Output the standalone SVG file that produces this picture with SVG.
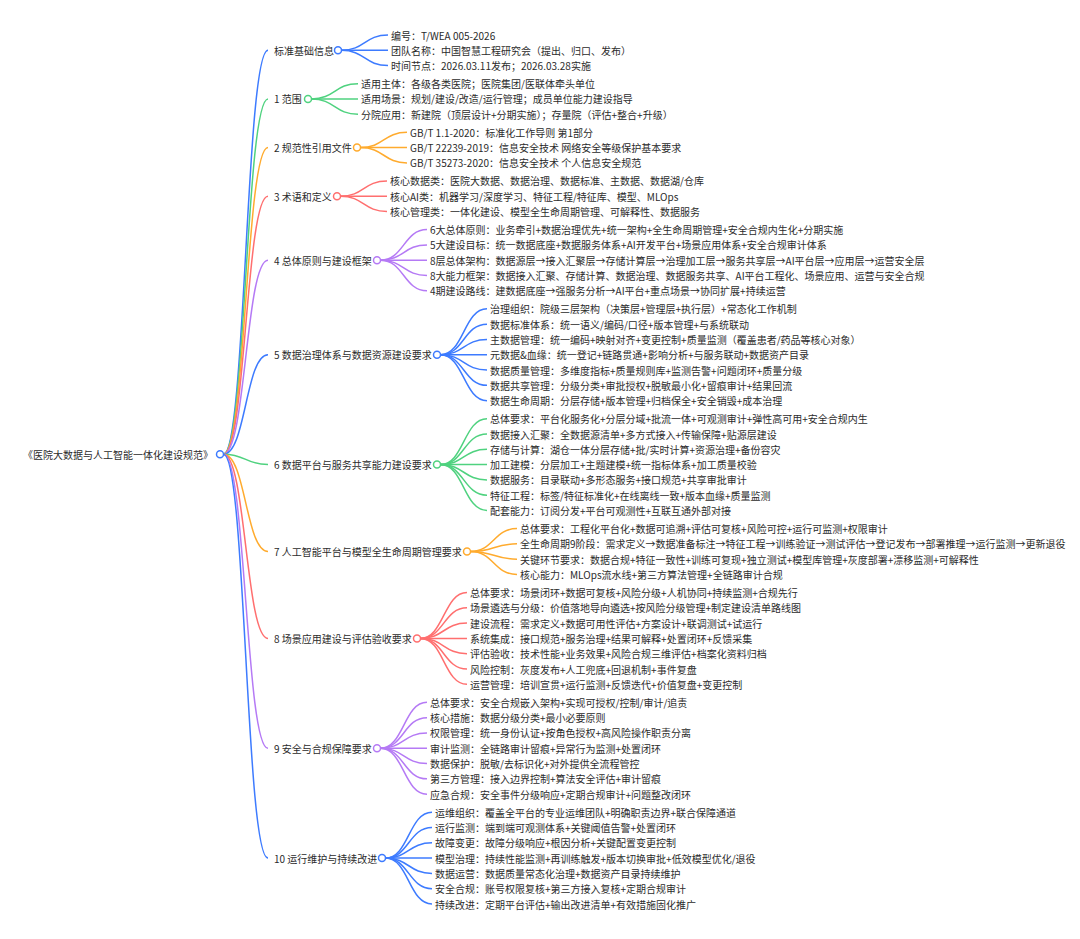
<svg xmlns="http://www.w3.org/2000/svg" width="1080" height="939" viewBox="0 0 1080 939">
<style>
text{font-family:"Noto Sans CJK SC","Microsoft YaHei",sans-serif;font-size:10px;fill:#2b2b2b;dominant-baseline:central}
.lk{fill:none;stroke-width:1.5}
.dot{fill:#fff;stroke-width:1.5}
.b{stroke:#3d7bff}.g{stroke:#4fd27f}.o{stroke:#ffab2e}.r{stroke:#ff6f6f}.p{stroke:#b57af5}
</style>
<rect width="1080" height="939" fill="#fff"/>
<g id="connectors">
<!-- root to sections -->
<path class="lk b" d="M223.5 454.2C245.75 454.2 245.75 50.3 268 50.3"/>
<path class="lk g" d="M223.5 454.2C245.75 454.2 245.75 98.95 268 98.95"/>
<path class="lk o" d="M223.5 454.2C245.75 454.2 245.75 147.6 268 147.6"/>
<path class="lk r" d="M223.5 454.2C245.75 454.2 245.75 196.25 268 196.25"/>
<path class="lk p" d="M223.5 454.2C245.75 454.2 245.75 260.2 268 260.2"/>
<path class="lk b" d="M223.5 454.2C245.75 454.2 245.75 354.75 268 354.75"/>
<path class="lk g" d="M223.5 454.2C245.75 454.2 245.75 464.6 268 464.6"/>
<path class="lk o" d="M223.5 454.2C245.75 454.2 245.75 551.5 268 551.5"/>
<path class="lk r" d="M223.5 454.2C245.75 454.2 245.75 638.4 268 638.4"/>
<path class="lk p" d="M223.5 454.2C245.75 454.2 245.75 748.25 268 748.25"/>
<path class="lk b" d="M223.5 454.2C245.75 454.2 245.75 858.1 268 858.1"/>
<!-- S0 -->
<path class="lk b" d="M341.5 50.3C364.75 50.3 364.75 35 388 35"/>
<path class="lk b" d="M341.5 50.3C364.75 50.3 364.75 50.3 388 50.3"/>
<path class="lk b" d="M341.5 50.3C364.75 50.3 364.75 65.6 388 65.6"/>
<!-- S1 -->
<path class="lk g" d="M311.5 98.95C334.75 98.95 334.75 83.65 358 83.65"/>
<path class="lk g" d="M311.5 98.95C334.75 98.95 334.75 98.95 358 98.95"/>
<path class="lk g" d="M311.5 98.95C334.75 98.95 334.75 114.25 358 114.25"/>
<!-- S2 -->
<path class="lk o" d="M360.5 147.6C383.75 147.6 383.75 132.3 407 132.3"/>
<path class="lk o" d="M360.5 147.6C383.75 147.6 383.75 147.6 407 147.6"/>
<path class="lk o" d="M360.5 147.6C383.75 147.6 383.75 162.9 407 162.9"/>
<!-- S3 -->
<path class="lk r" d="M340.5 196.25C363.75 196.25 363.75 180.95 387 180.95"/>
<path class="lk r" d="M340.5 196.25C363.75 196.25 363.75 196.25 387 196.25"/>
<path class="lk r" d="M340.5 196.25C363.75 196.25 363.75 211.55 387 211.55"/>
<!-- S4 -->
<path class="lk p" d="M380.5 260.2C403.75 260.2 403.75 229.6 427 229.6"/>
<path class="lk p" d="M380.5 260.2C403.75 260.2 403.75 244.9 427 244.9"/>
<path class="lk p" d="M380.5 260.2C403.75 260.2 403.75 260.2 427 260.2"/>
<path class="lk p" d="M380.5 260.2C403.75 260.2 403.75 275.5 427 275.5"/>
<path class="lk p" d="M380.5 260.2C403.75 260.2 403.75 290.8 427 290.8"/>
<!-- S5 -->
<path class="lk b" d="M440.5 354.75C463.75 354.75 463.75 308.85 487 308.85"/>
<path class="lk b" d="M440.5 354.75C463.75 354.75 463.75 324.15 487 324.15"/>
<path class="lk b" d="M440.5 354.75C463.75 354.75 463.75 339.45 487 339.45"/>
<path class="lk b" d="M440.5 354.75C463.75 354.75 463.75 354.75 487 354.75"/>
<path class="lk b" d="M440.5 354.75C463.75 354.75 463.75 370.05 487 370.05"/>
<path class="lk b" d="M440.5 354.75C463.75 354.75 463.75 385.35 487 385.35"/>
<path class="lk b" d="M440.5 354.75C463.75 354.75 463.75 400.65 487 400.65"/>
<!-- S6 -->
<path class="lk g" d="M440.5 464.6C463.75 464.6 463.75 418.7 487 418.7"/>
<path class="lk g" d="M440.5 464.6C463.75 464.6 463.75 434 487 434"/>
<path class="lk g" d="M440.5 464.6C463.75 464.6 463.75 449.3 487 449.3"/>
<path class="lk g" d="M440.5 464.6C463.75 464.6 463.75 464.6 487 464.6"/>
<path class="lk g" d="M440.5 464.6C463.75 464.6 463.75 479.9 487 479.9"/>
<path class="lk g" d="M440.5 464.6C463.75 464.6 463.75 495.2 487 495.2"/>
<path class="lk g" d="M440.5 464.6C463.75 464.6 463.75 510.5 487 510.5"/>
<!-- S7 -->
<path class="lk o" d="M470.5 551.5C493.75 551.5 493.75 528.55 517 528.55"/>
<path class="lk o" d="M470.5 551.5C493.75 551.5 493.75 543.85 517 543.85"/>
<path class="lk o" d="M470.5 551.5C493.75 551.5 493.75 559.15 517 559.15"/>
<path class="lk o" d="M470.5 551.5C493.75 551.5 493.75 574.45 517 574.45"/>
<!-- S8 -->
<path class="lk r" d="M420.5 638.4C443.75 638.4 443.75 592.5 467 592.5"/>
<path class="lk r" d="M420.5 638.4C443.75 638.4 443.75 607.8 467 607.8"/>
<path class="lk r" d="M420.5 638.4C443.75 638.4 443.75 623.1 467 623.1"/>
<path class="lk r" d="M420.5 638.4C443.75 638.4 443.75 638.4 467 638.4"/>
<path class="lk r" d="M420.5 638.4C443.75 638.4 443.75 653.7 467 653.7"/>
<path class="lk r" d="M420.5 638.4C443.75 638.4 443.75 669 467 669"/>
<path class="lk r" d="M420.5 638.4C443.75 638.4 443.75 684.3 467 684.3"/>
<!-- S9 -->
<path class="lk p" d="M380.5 748.25C403.75 748.25 403.75 702.35 427 702.35"/>
<path class="lk p" d="M380.5 748.25C403.75 748.25 403.75 717.65 427 717.65"/>
<path class="lk p" d="M380.5 748.25C403.75 748.25 403.75 732.95 427 732.95"/>
<path class="lk p" d="M380.5 748.25C403.75 748.25 403.75 748.25 427 748.25"/>
<path class="lk p" d="M380.5 748.25C403.75 748.25 403.75 763.55 427 763.55"/>
<path class="lk p" d="M380.5 748.25C403.75 748.25 403.75 778.85 427 778.85"/>
<path class="lk p" d="M380.5 748.25C403.75 748.25 403.75 794.15 427 794.15"/>
<!-- S10 -->
<path class="lk b" d="M385.5 858.1C408.75 858.1 408.75 812.2 432 812.2"/>
<path class="lk b" d="M385.5 858.1C408.75 858.1 408.75 827.5 432 827.5"/>
<path class="lk b" d="M385.5 858.1C408.75 858.1 408.75 842.8 432 842.8"/>
<path class="lk b" d="M385.5 858.1C408.75 858.1 408.75 858.1 432 858.1"/>
<path class="lk b" d="M385.5 858.1C408.75 858.1 408.75 873.4 432 873.4"/>
<path class="lk b" d="M385.5 858.1C408.75 858.1 408.75 888.7 432 888.7"/>
<path class="lk b" d="M385.5 858.1C408.75 858.1 408.75 904 432 904"/>
</g>

<g id="root"><text x="213" y="454.2" text-anchor="end">《医院大数据与人工智能一体化建设规范》</text><circle class="dot b" cx="220" cy="454.2" r="3.5"/></g>

<g id="s0"><text x="274" y="50.3">标准基础信息</text><circle class="dot b" cx="338" cy="50.3" r="3.5"/></g>
<g id="s0-1"><text x="391" y="35">编号：T/WEA 005-2026</text></g>
<g id="s0-2"><text x="391" y="50.3">团队名称：中国智慧工程研究会（提出、归口、发布）</text></g>
<g id="s0-3"><text x="391" y="65.6">时间节点：2026.03.11发布；2026.03.28实施</text></g>

<g id="s1"><text x="274" y="98.95">1 范围</text><circle class="dot g" cx="308" cy="98.95" r="3.5"/></g>
<g id="s1-1"><text x="361" y="83.65">适用主体：各级各类医院；医院集团/医联体牵头单位</text></g>
<g id="s1-2"><text x="361" y="98.95">适用场景：规划/建设/改造/运行管理；成员单位能力建设指导</text></g>
<g id="s1-3"><text x="361" y="114.25">分院应用：新建院（顶层设计+分期实施）；存量院（评估+整合+升级）</text></g>

<g id="s2"><text x="274" y="147.6">2 规范性引用文件</text><circle class="dot o" cx="357" cy="147.6" r="3.5"/></g>
<g id="s2-1"><text x="410" y="132.3">GB/T 1.1-2020：标准化工作导则 第1部分</text></g>
<g id="s2-2"><text x="410" y="147.6">GB/T 22239-2019：信息安全技术 网络安全等级保护基本要求</text></g>
<g id="s2-3"><text x="410" y="162.9">GB/T 35273-2020：信息安全技术 个人信息安全规范</text></g>

<g id="s3"><text x="274" y="196.25">3 术语和定义</text><circle class="dot r" cx="337" cy="196.25" r="3.5"/></g>
<g id="s3-1"><text x="390" y="180.95">核心数据类：医院大数据、数据治理、数据标准、主数据、数据湖/仓库</text></g>
<g id="s3-2"><text x="390" y="196.25">核心AI类：机器学习/深度学习、特征工程/特征库、模型、MLOps</text></g>
<g id="s3-3"><text x="390" y="211.55">核心管理类：一体化建设、模型全生命周期管理、可解释性、数据服务</text></g>

<g id="s4"><text x="274" y="260.2">4 总体原则与建设框架</text><circle class="dot p" cx="377" cy="260.2" r="3.5"/></g>
<g id="s4-1"><text x="430" y="229.6">6大总体原则：业务牵引+数据治理优先+统一架构+全生命周期管理+安全合规内生化+分期实施</text></g>
<g id="s4-2"><text x="430" y="244.9">5大建设目标：统一数据底座+数据服务体系+AI开发平台+场景应用体系+安全合规审计体系</text></g>
<g id="s4-3"><text x="430" y="260.2">8层总体架构：数据源层→接入汇聚层→存储计算层→治理加工层→服务共享层→AI平台层→应用层→运营安全层</text></g>
<g id="s4-4"><text x="430" y="275.5">8大能力框架：数据接入汇聚、存储计算、数据治理、数据服务共享、AI平台工程化、场景应用、运营与安全合规</text></g>
<g id="s4-5"><text x="430" y="290.8">4期建设路线：建数据底座→强服务分析→AI平台+重点场景→协同扩展+持续运营</text></g>

<g id="s5"><text x="274" y="354.75">5 数据治理体系与数据资源建设要求</text><circle class="dot b" cx="437" cy="354.75" r="3.5"/></g>
<g id="s5-1"><text x="490" y="308.85">治理组织：院级三层架构（决策层+管理层+执行层）+常态化工作机制</text></g>
<g id="s5-2"><text x="490" y="324.15">数据标准体系：统一语义/编码/口径+版本管理+与系统联动</text></g>
<g id="s5-3"><text x="490" y="339.45">主数据管理：统一编码+映射对齐+变更控制+质量监测（覆盖患者/药品等核心对象）</text></g>
<g id="s5-4"><text x="490" y="354.75">元数据&amp;血缘：统一登记+链路贯通+影响分析+与服务联动+数据资产目录</text></g>
<g id="s5-5"><text x="490" y="370.05">数据质量管理：多维度指标+质量规则库+监测告警+问题闭环+质量分级</text></g>
<g id="s5-6"><text x="490" y="385.35">数据共享管理：分级分类+审批授权+脱敏最小化+留痕审计+结果回流</text></g>
<g id="s5-7"><text x="490" y="400.65">数据生命周期：分层存储+版本管理+归档保全+安全销毁+成本治理</text></g>

<g id="s6"><text x="274" y="464.6">6 数据平台与服务共享能力建设要求</text><circle class="dot g" cx="437" cy="464.6" r="3.5"/></g>
<g id="s6-1"><text x="490" y="418.7">总体要求：平台化服务化+分层分域+批流一体+可观测审计+弹性高可用+安全合规内生</text></g>
<g id="s6-2"><text x="490" y="434">数据接入汇聚：全数据源清单+多方式接入+传输保障+贴源层建设</text></g>
<g id="s6-3"><text x="490" y="449.3">存储与计算：湖仓一体分层存储+批/实时计算+资源治理+备份容灾</text></g>
<g id="s6-4"><text x="490" y="464.6">加工建模：分层加工+主题建模+统一指标体系+加工质量校验</text></g>
<g id="s6-5"><text x="490" y="479.9">数据服务：目录联动+多形态服务+接口规范+共享审批审计</text></g>
<g id="s6-6"><text x="490" y="495.2">特征工程：标签/特征标准化+在线离线一致+版本血缘+质量监测</text></g>
<g id="s6-7"><text x="490" y="510.5">配套能力：订阅分发+平台可观测性+互联互通外部对接</text></g>

<g id="s7"><text x="274" y="551.5">7 人工智能平台与模型全生命周期管理要求</text><circle class="dot o" cx="467" cy="551.5" r="3.5"/></g>
<g id="s7-1"><text x="520" y="528.55">总体要求：工程化平台化+数据可追溯+评估可复核+风险可控+运行可监测+权限审计</text></g>
<g id="s7-2"><text x="520" y="543.85">全生命周期9阶段：需求定义→数据准备标注→特征工程→训练验证→测试评估→登记发布→部署推理→运行监测→更新退役</text></g>
<g id="s7-3"><text x="520" y="559.15">关键环节要求：数据合规+特征一致性+训练可复现+独立测试+模型库管理+灰度部署+漂移监测+可解释性</text></g>
<g id="s7-4"><text x="520" y="574.45">核心能力：MLOps流水线+第三方算法管理+全链路审计合规</text></g>

<g id="s8"><text x="274" y="638.4">8 场景应用建设与评估验收要求</text><circle class="dot r" cx="417" cy="638.4" r="3.5"/></g>
<g id="s8-1"><text x="470" y="592.5">总体要求：场景闭环+数据可复核+风险分级+人机协同+持续监测+合规先行</text></g>
<g id="s8-2"><text x="470" y="607.8">场景遴选与分级：价值落地导向遴选+按风险分级管理+制定建设清单路线图</text></g>
<g id="s8-3"><text x="470" y="623.1">建设流程：需求定义+数据可用性评估+方案设计+联调测试+试运行</text></g>
<g id="s8-4"><text x="470" y="638.4">系统集成：接口规范+服务治理+结果可解释+处置闭环+反馈采集</text></g>
<g id="s8-5"><text x="470" y="653.7">评估验收：技术性能+业务效果+风险合规三维评估+档案化资料归档</text></g>
<g id="s8-6"><text x="470" y="669">风险控制：灰度发布+人工兜底+回退机制+事件复盘</text></g>
<g id="s8-7"><text x="470" y="684.3">运营管理：培训宣贯+运行监测+反馈迭代+价值复盘+变更控制</text></g>

<g id="s9"><text x="274" y="748.25">9 安全与合规保障要求</text><circle class="dot p" cx="377" cy="748.25" r="3.5"/></g>
<g id="s9-1"><text x="430" y="702.35">总体要求：安全合规嵌入架构+实现可授权/控制/审计/追责</text></g>
<g id="s9-2"><text x="430" y="717.65">核心措施：数据分级分类+最小必要原则</text></g>
<g id="s9-3"><text x="430" y="732.95">权限管理：统一身份认证+按角色授权+高风险操作职责分离</text></g>
<g id="s9-4"><text x="430" y="748.25">审计监测：全链路审计留痕+异常行为监测+处置闭环</text></g>
<g id="s9-5"><text x="430" y="763.55">数据保护：脱敏/去标识化+对外提供全流程管控</text></g>
<g id="s9-6"><text x="430" y="778.85">第三方管理：接入边界控制+算法安全评估+审计留痕</text></g>
<g id="s9-7"><text x="430" y="794.15">应急合规：安全事件分级响应+定期合规审计+问题整改闭环</text></g>

<g id="s10"><text x="274" y="858.1">10 运行维护与持续改进</text><circle class="dot b" cx="382" cy="858.1" r="3.5"/></g>
<g id="s10-1"><text x="435" y="812.2">运维组织：覆盖全平台的专业运维团队+明确职责边界+联合保障通道</text></g>
<g id="s10-2"><text x="435" y="827.5">运行监测：端到端可观测体系+关键阈值告警+处置闭环</text></g>
<g id="s10-3"><text x="435" y="842.8">故障变更：故障分级响应+根因分析+关键配置变更控制</text></g>
<g id="s10-4"><text x="435" y="858.1">模型治理：持续性能监测+再训练触发+版本切换审批+低效模型优化/退役</text></g>
<g id="s10-5"><text x="435" y="873.4">数据运营：数据质量常态化治理+数据资产目录持续维护</text></g>
<g id="s10-6"><text x="435" y="888.7">安全合规：账号权限复核+第三方接入复核+定期合规审计</text></g>
<g id="s10-7"><text x="435" y="904">持续改进：定期平台评估+输出改进清单+有效措施固化推广</text></g>
</svg>
